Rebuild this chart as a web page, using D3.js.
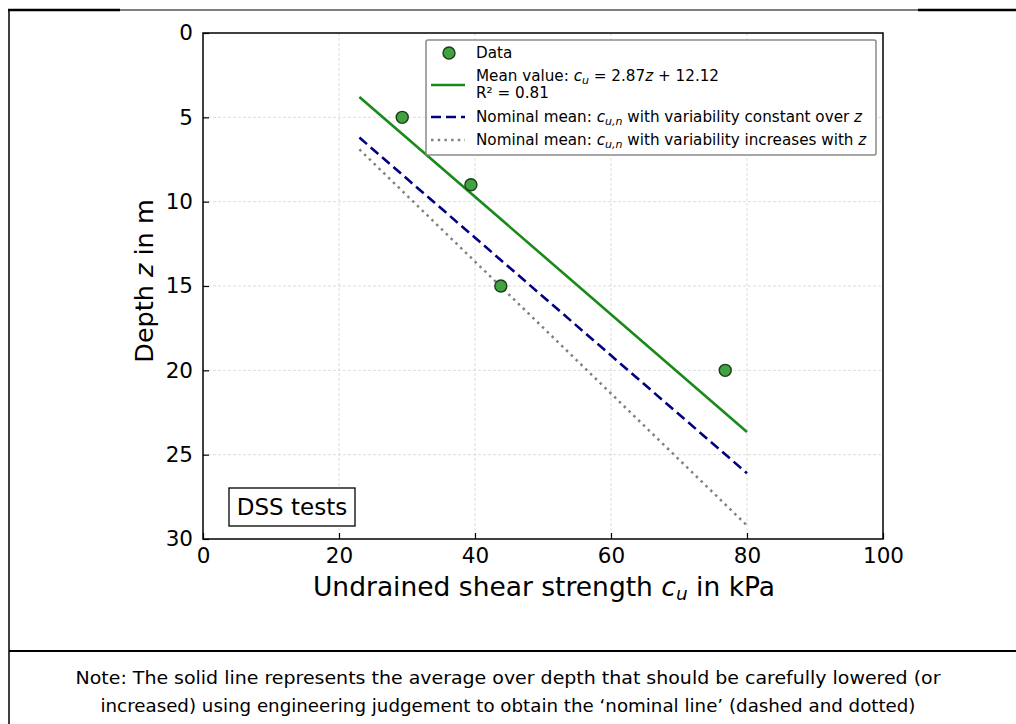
<!DOCTYPE html>
<html>
<head>
<meta charset="utf-8">
<script src="https://cdn.jsdelivr.net/npm/d3@7"></script>
<style>
  body { margin: 0; background: #fff; }
  svg text { font-family: "DejaVu Sans", Verdana, "Bitstream Vera Sans", sans-serif; }
</style>
</head>
<body>
<div id="chart"></div>
<script>
// data
const depth = [5, 9, 15, 20];
const strength = [29.3, 39.4, 43.8, 76.8];
const lineX = [23, 80];
const meanZ = [3.79, 23.65];
const constZ = [6.2, 26.1];
const incrZ = [6.9, 29.2];
const xTicks = [0, 20, 40, 60, 80, 100];
const yTicks = [0, 5, 10, 15, 20, 25, 30];
const noteLines = [
  "Note: The solid line represents the average over depth that should be carefully lowered (or",
  "increased) using engineering judgement to obtain the \u2018nominal line\u2019 (dashed and dotted)"
];

const FONT = '"DejaVu Sans", Verdana, "Bitstream Vera Sans", sans-serif';
const width = 1016, height = 724;

const svg = d3.select("#chart").append("svg")
  .attr("width", width).attr("height", height);

/* table frame */
svg.append("line").attr("x1", 8).attr("x2", 1016).attr("y1", 10).attr("y2", 10)
  .attr("stroke", "#000").attr("stroke-width", 1);
svg.append("line").attr("x1", 8).attr("x2", 120).attr("y1", 10).attr("y2", 10)
  .attr("stroke", "#000").attr("stroke-width", 2.5);
svg.append("line").attr("x1", 918).attr("x2", 1016).attr("y1", 10).attr("y2", 10)
  .attr("stroke", "#000").attr("stroke-width", 2.5);
svg.append("line").attr("x1", 9).attr("x2", 9).attr("y1", 9).attr("y2", 724)
  .attr("stroke", "#000").attr("stroke-width", 1.5);
svg.append("line").attr("x1", 9).attr("x2", 1016).attr("y1", 651).attr("y2", 651)
  .attr("stroke", "#000").attr("stroke-width", 2);

const x = d3.scaleLinear().domain([0, 100]).range([203, 883]);
const y = d3.scaleLinear().domain([0, 30]).range([33, 539]);

/* grid */
const grid = svg.append("g");
grid.selectAll(".gx").data(xTicks.slice(1, -1)).enter().append("line")
  .attr("x1", d => x(d)).attr("x2", d => x(d)).attr("y1", y(0)).attr("y2", y(30))
  .attr("stroke", "#d4d4d4").attr("stroke-width", 0.8).attr("stroke-dasharray", "3,2");
grid.selectAll(".gy").data(yTicks.slice(1, -1)).enter().append("line")
  .attr("x1", x(0)).attr("x2", x(100)).attr("y1", d => y(d)).attr("y2", d => y(d))
  .attr("stroke", "#d4d4d4").attr("stroke-width", 0.8).attr("stroke-dasharray", "3,2");

/* axes, ticks pointing in */
const xAxis = svg.append("g").attr("transform", `translate(0,${y(30)})`)
  .call(d3.axisBottom(x).tickValues(xTicks).tickSizeInner(-6).tickSizeOuter(0).tickPadding(9));
const yAxis = svg.append("g").attr("transform", `translate(${x(0)},0)`)
  .call(d3.axisLeft(y).tickValues(yTicks).tickSizeInner(-6).tickSizeOuter(0).tickPadding(10));
[xAxis, yAxis].forEach(a => {
  a.attr("font-family", FONT).attr("font-size", 21.5);
  a.select(".domain").remove();
  a.selectAll("text").attr("font-family", FONT).attr("font-size", 21.5).attr("fill", "#000");
  a.selectAll(".tick line").attr("stroke", "#000").attr("stroke-width", 1.2);
});

svg.append("rect").attr("x", x(0)).attr("y", y(0))
  .attr("width", x(100) - x(0)).attr("height", y(30) - y(0))
  .attr("fill", "none").attr("stroke", "#000").attr("stroke-width", 1.5);

/* lines */
const line = d3.line().x(d => x(d[0])).y(d => y(d[1]));
svg.append("path").datum(lineX.map((v, i) => [v, incrZ[i]])).attr("d", line)
  .attr("fill", "none").attr("stroke", "#808080").attr("stroke-width", 2.5)
  .attr("stroke-dasharray", "2.5,4.2");
svg.append("path").datum(lineX.map((v, i) => [v, constZ[i]])).attr("d", line)
  .attr("fill", "none").attr("stroke", "#000080").attr("stroke-width", 2.6)
  .attr("stroke-dasharray", "10,5");
svg.append("path").datum(lineX.map((v, i) => [v, meanZ[i]])).attr("d", line)
  .attr("fill", "none").attr("stroke", "#188a18").attr("stroke-width", 2.6);

/* points */
svg.selectAll(".pt").data(depth).enter().append("circle")
  .attr("cx", (d, i) => x(strength[i])).attr("cy", d => y(d)).attr("r", 6)
  .attr("fill", "#3fa33f").attr("stroke", "#1e3a1e").attr("stroke-width", 1.4);

/* axis labels */
const xl = svg.append("text").attr("x", 544).attr("y", 596).attr("text-anchor", "middle")
  .attr("font-family", FONT).attr("font-size", 26.5);
xl.append("tspan").text("Undrained shear strength ");
xl.append("tspan").attr("font-style", "italic").text("c");
xl.append("tspan").attr("font-style", "italic").attr("font-size", 18.5).attr("dy", 4).text("u");
xl.append("tspan").attr("dy", -4).text(" in kPa");

const yl = svg.append("text").attr("transform", `translate(153,${y(15) - 5}) rotate(-90)`)
  .attr("text-anchor", "middle").attr("font-family", FONT).attr("font-size", 25.5);
yl.append("tspan").text("Depth ");
yl.append("tspan").attr("font-style", "italic").text("z");
yl.append("tspan").text(" in m");

/* DSS box */
svg.append("rect").attr("x", 229).attr("y", 488).attr("width", 126).attr("height", 38)
  .attr("fill", "#fff").attr("stroke", "#000").attr("stroke-width", 1.3);
svg.append("text").attr("x", 292).attr("y", 515).attr("text-anchor", "middle")
  .attr("font-family", FONT).attr("font-size", 23).text("DSS tests");

/* legend */
const lg = svg.append("g");
lg.append("rect").attr("x", 426).attr("y", 40).attr("width", 450).attr("height", 115).attr("rx", 2)
  .attr("fill", "#fff").attr("stroke", "#8a8a8a").attr("stroke-width", 1.5);
lg.append("circle").attr("cx", 449).attr("cy", 53).attr("r", 6)
  .attr("fill", "#3fa33f").attr("stroke", "#1e3a1e").attr("stroke-width", 1.4);
lg.append("line").attr("x1", 431).attr("x2", 465).attr("y1", 85).attr("y2", 85)
  .attr("stroke", "#188a18").attr("stroke-width", 2.6);
lg.append("line").attr("x1", 431).attr("x2", 465).attr("y1", 117).attr("y2", 117)
  .attr("stroke", "#000080").attr("stroke-width", 2.6).attr("stroke-dasharray", "10,5");
lg.append("line").attr("x1", 431).attr("x2", 465).attr("y1", 140).attr("y2", 140)
  .attr("stroke", "#808080").attr("stroke-width", 2.5).attr("stroke-dasharray", "2.5,4.2");

const lt = (yy) => lg.append("text").attr("x", 476).attr("y", yy)
  .attr("font-family", FONT).attr("font-size", 15.2);
lt(58).text("Data");
const t1 = lt(81);
t1.append("tspan").text("Mean value: ");
t1.append("tspan").attr("font-style", "italic").text("c");
t1.append("tspan").attr("font-style", "italic").attr("font-size", 11).attr("dy", 3).text("u");
t1.append("tspan").attr("dy", -3).text(" = 2.87");
t1.append("tspan").attr("font-style", "italic").text("z");
t1.append("tspan").text(" + 12.12");
lt(98).text("R\u00b2 = 0.81");
[[122, "constant over "], [145, "increases with "]].forEach(([yy, s]) => {
  const t = lt(yy);
  t.append("tspan").text("Nominal mean: ");
  t.append("tspan").attr("font-style", "italic").text("c");
  t.append("tspan").attr("font-style", "italic").attr("font-size", 11).attr("dy", 3).text("u,n");
  t.append("tspan").attr("dy", -3).text(" with variability " + s);
  t.append("tspan").attr("font-style", "italic").text("z");
});

/* note */
const noteLen = [865, 815];
svg.selectAll(".note").data(noteLines).enter().append("text")
  .attr("x", 508).attr("y", (d, i) => 684 + i * 28).attr("text-anchor", "middle")
  .attr("font-family", '"Open Sans", Lato, sans-serif').attr("font-size", 18.5)
  .attr("textLength", (d, i) => noteLen[i]).attr("lengthAdjust", "spacingAndGlyphs")
  .text(d => d);
</script>
</body>
</html>
